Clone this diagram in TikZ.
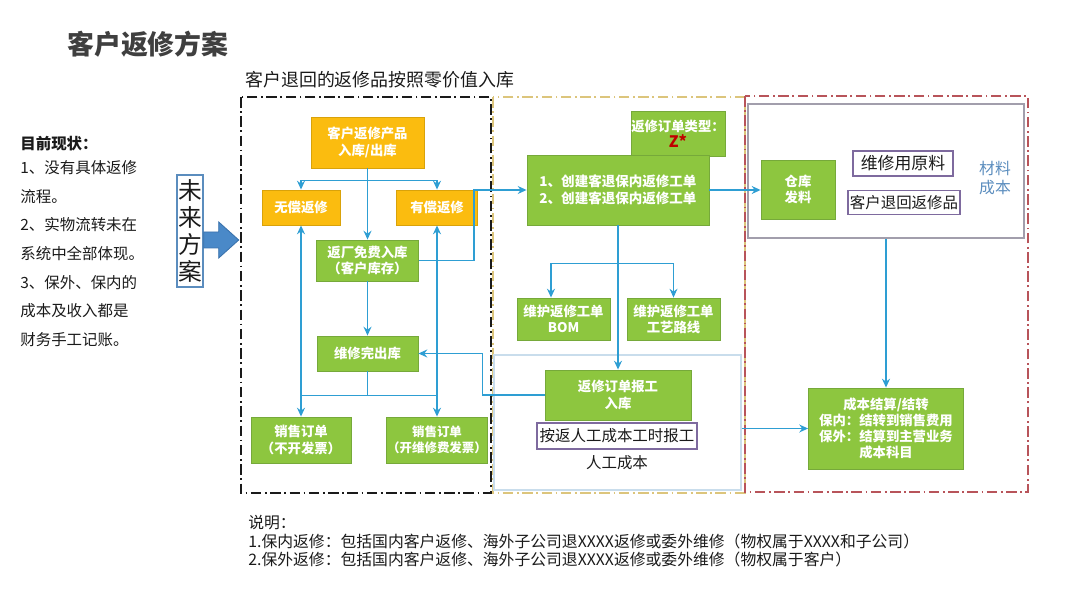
\documentclass[tikz,border=0pt]{standalone}
\usepackage{fontspec}
\setmainfont{Noto Sans CJK SC}
\usepackage{xcolor}
\usetikzlibrary{positioning,calc,arrows.meta}
\definecolor{RInk}{HTML}{1A1A1A}
\definecolor{RTitle}{HTML}{3F3F3F}
\definecolor{ROrange}{HTML}{FBBC0F}
\definecolor{ROrangeEdge}{HTML}{D9A20A}
\definecolor{RGreen}{HTML}{8DC63F}
\definecolor{RGreenEdge}{HTML}{76A93A}
\definecolor{RLink}{HTML}{2E9ED3}
\definecolor{RPurple}{HTML}{7E6A9E}
\definecolor{RSteel}{HTML}{5B8DBE}
\definecolor{RBlock}{HTML}{4A89C8}
\definecolor{RBlockEdge}{HTML}{3A72AC}
\definecolor{RRedFrame}{HTML}{B8545A}
\definecolor{RSand}{HTML}{DCC57C}
\definecolor{RLilac}{HTML}{A29EAC}
\definecolor{RIce}{HTML}{C9DDEC}
\definecolor{RZed}{HTML}{C00000}

\begin{document}
\begin{tikzpicture}[x=0.02cm, y=-0.02cm,
  every node/.style={font=\fontsize{9}{11}\selectfont, text=RInk},
  obox/.style ={draw=ROrangeEdge, fill=ROrange, text=white, inner sep=0pt,
                font=\bfseries\fontsize{7.6}{9.2}\selectfont, align=center, line width=0.5pt},
  gbox/.style ={draw=RGreenEdge, fill=RGreen, text=white, inner sep=0pt,
                font=\bfseries\fontsize{7.6}{9.2}\selectfont, align=center, line width=0.5pt},
  tag/.style  ={draw=RPurple, fill=white, line width=0.9pt, inner xsep=1pt, inner ysep=0pt,
                font=\fontsize{8.8}{10}\selectfont},
  frame/.style={line width=0.8pt, dash pattern=on 6pt off 2pt on 1pt off 2pt},
  plain/.style={draw=RLink, line width=0.9pt},
  link/.style ={-{Stealth[length=5pt,width=4.5pt]}, draw=RLink, line width=0.9pt},
]
\useasboundingbox (0,0) rectangle (1080,608);

\node[font=\bfseries\fontsize{15.3}{18}\selectfont, text=RTitle] (title) at (148,44) {客户返修方案};
\node[anchor=west, inner sep=0pt, font=\fontsize{10.2}{12}\selectfont] (scope) at (245,80) {客户退回的返修品按照零价值入库};

\node[anchor=north west, inner sep=0pt, align=left, font=\fontsize{8.8}{16.3}\selectfont] (status) at (20,136)
  {\textbf{目前现状：}\\[-2.7pt]1、没有具体返修\\流程。\\2、实物流转未在\\系统中全部体现。\\3、保外、保内的\\成本及收入都是\\财务手工记账。};
\node[draw=RSteel, line width=0.8pt, inner sep=0pt, minimum width=0.52cm, minimum height=2.24cm,
      align=center, font=\fontsize{13.5}{15.5}\selectfont] (future) at (190,231) {未\\来\\方\\案};
\fill[RBlock, draw=RBlockEdge, line width=0.5pt] ($(future.east)+(0,1)$) -- ++(15,0) -- ++(0,-10)
  -- ++(20,18) -- ++(-20,18) -- ++(0,-10) -- ++(-15,0) -- cycle;

\draw[frame, draw=RInk] (241,97) rectangle (491,493);
\draw[frame, draw=RSand] (493,97) rectangle (745,493);
\draw[frame, draw=RRedFrame] (745,96) rectangle (1028,492);

\node[obox, minimum width=2.26cm, minimum height=1.02cm] (intake) at (367.5,142.5) {客户返修产品\\入库/出库};
\node[obox, minimum width=1.56cm, minimum height=0.70cm] (free) at (301,207.5) {无偿返修};
\node[obox, minimum width=1.62cm, minimum height=0.70cm] (paid) at (437,207.5) {有偿返修};
\node[gbox, minimum width=2.04cm, minimum height=0.82cm] (stock) at (367.5,260.5) {返厂免费入库\\（客户库存）};
\node[gbox, minimum width=2.02cm, minimum height=0.70cm] (done) at (367.5,353.5) {维修完出库};
\node[gbox, minimum width=2.0cm, minimum height=0.92cm] (soA) at (301,440) {销售订单\\（不开发票）};
\node[gbox, minimum width=2.02cm, minimum height=0.92cm, font=\bfseries\fontsize{7.1}{9.2}\selectfont] (soB) at (437,440) {销售订单\\（开维修费发票）};

\node[gbox, minimum width=1.88cm, minimum height=0.9cm] (ztype) at (678,133.5) {返修订单类型：\\{\color{RZed}\fontsize{9}{9.2}\selectfont Z*}};
\node[gbox, minimum width=3.64cm, minimum height=1.4cm, font=\bfseries\fontsize{7.7}{10}\selectfont] (create) at (618,190) {1、创建客退保内返修工单\\2、创建客退保内返修工单};
\node[gbox, minimum width=1.86cm, minimum height=0.84cm] (bom) at (563.5,319) {维护返修工单\\BOM};
\node[gbox, minimum width=1.86cm, minimum height=0.84cm] (route) at (673.5,319) {维护返修工单\\工艺路线};
\node[draw=RIce, line width=1pt, inner sep=0pt, minimum width=4.94cm, minimum height=2.7cm] (labour) at (617.5,422.5) {};
\node[gbox, minimum width=2.92cm, minimum height=1.0cm] (report) at (618,395) {返修订单报工\\入库};
\node[tag, minimum width=3.2cm, minimum height=0.52cm] (hours) at (617,436) {按返人工成本工时报工};
\node[font=\fontsize{8.8}{10}\selectfont] (lcost) at (617,463) {人工成本};

\node[draw=RLilac, line width=0.8pt, inner sep=0pt, minimum width=5.52cm, minimum height=2.68cm] (matbox) at (886,171) {};
\node[gbox, minimum width=1.48cm, minimum height=1.18cm] (issue) at (798,189.5) {仓库\\发料};
\node[tag, minimum width=2.0cm, minimum height=0.5cm, font=\fontsize{9.6}{10}\selectfont] (raw) at (903,163.5) {维修用原料};
\node[tag, minimum width=2.0cm, minimum height=0.48cm] (back) at (904,202.5) {客户退回返修品};
\node[text=RSteel, align=center, font=\fontsize{9}{10.8}\selectfont] (mcost) at (995,178) {材料\\成本};
\node[gbox, minimum width=3.1cm, minimum height=1.62cm, font=\bfseries\fontsize{7.6}{9}\selectfont] (settle) at (886,428.5)
  {成本结算/结转\\保内：结转到销售费用\\保外：结算到主营业务\\成本科目};

\node[anchor=north west, inner sep=0pt, align=left, font=\fontsize{9}{10.5}\selectfont] (notes) at (248,515)
  {说明：\\1.保内返修：包括国内客户返修、海外子公司退XXXX返修或委外维修（物权属于XXXX和子公司）\\2.保外返修：包括国内客户返修、海外子公司退XXXX返修或委外维修（物权属于客户）};

\coordinate (fork) at ($(intake.south)+(0,12)$);
\coordinate (merge) at ($(done.south)+(0,24)$);
\coordinate (branch) at ($(create.south)+(0,38)$);
\draw[link] (intake) -- (stock);
\foreach \dst in {free,paid} {\draw[link] (fork) -| (\dst.north);}
\draw[link] (stock) -- (done);
\draw[plain] (done.south) -- (merge);
\foreach \dst in {soA,soB} {\draw[link] (merge) -| (\dst.north);}
\foreach \dst in {free,paid} {\draw[link] (merge -| \dst) -- (\dst.south);}
\draw[link] (stock.east) -- ++(55,0) |- (create.west);
\draw[link] (report.west) -- ++(-62,0) |- (done.east);
\draw[link] (create.east) -- (create.east -| issue.west);
\draw[plain] (create.south) -- (branch);
\draw[link] (branch) -| ([xshift=-0.25cm]bom.north);
\draw[link, line width=0.5pt] (branch) -| (route.north);
\draw[link] (branch) -- (report.north);
\draw[link] (labour.east |- settle.west) -- (settle.west);
\draw[link] (matbox.south) -- (settle.north);
\end{tikzpicture}
\end{document}
